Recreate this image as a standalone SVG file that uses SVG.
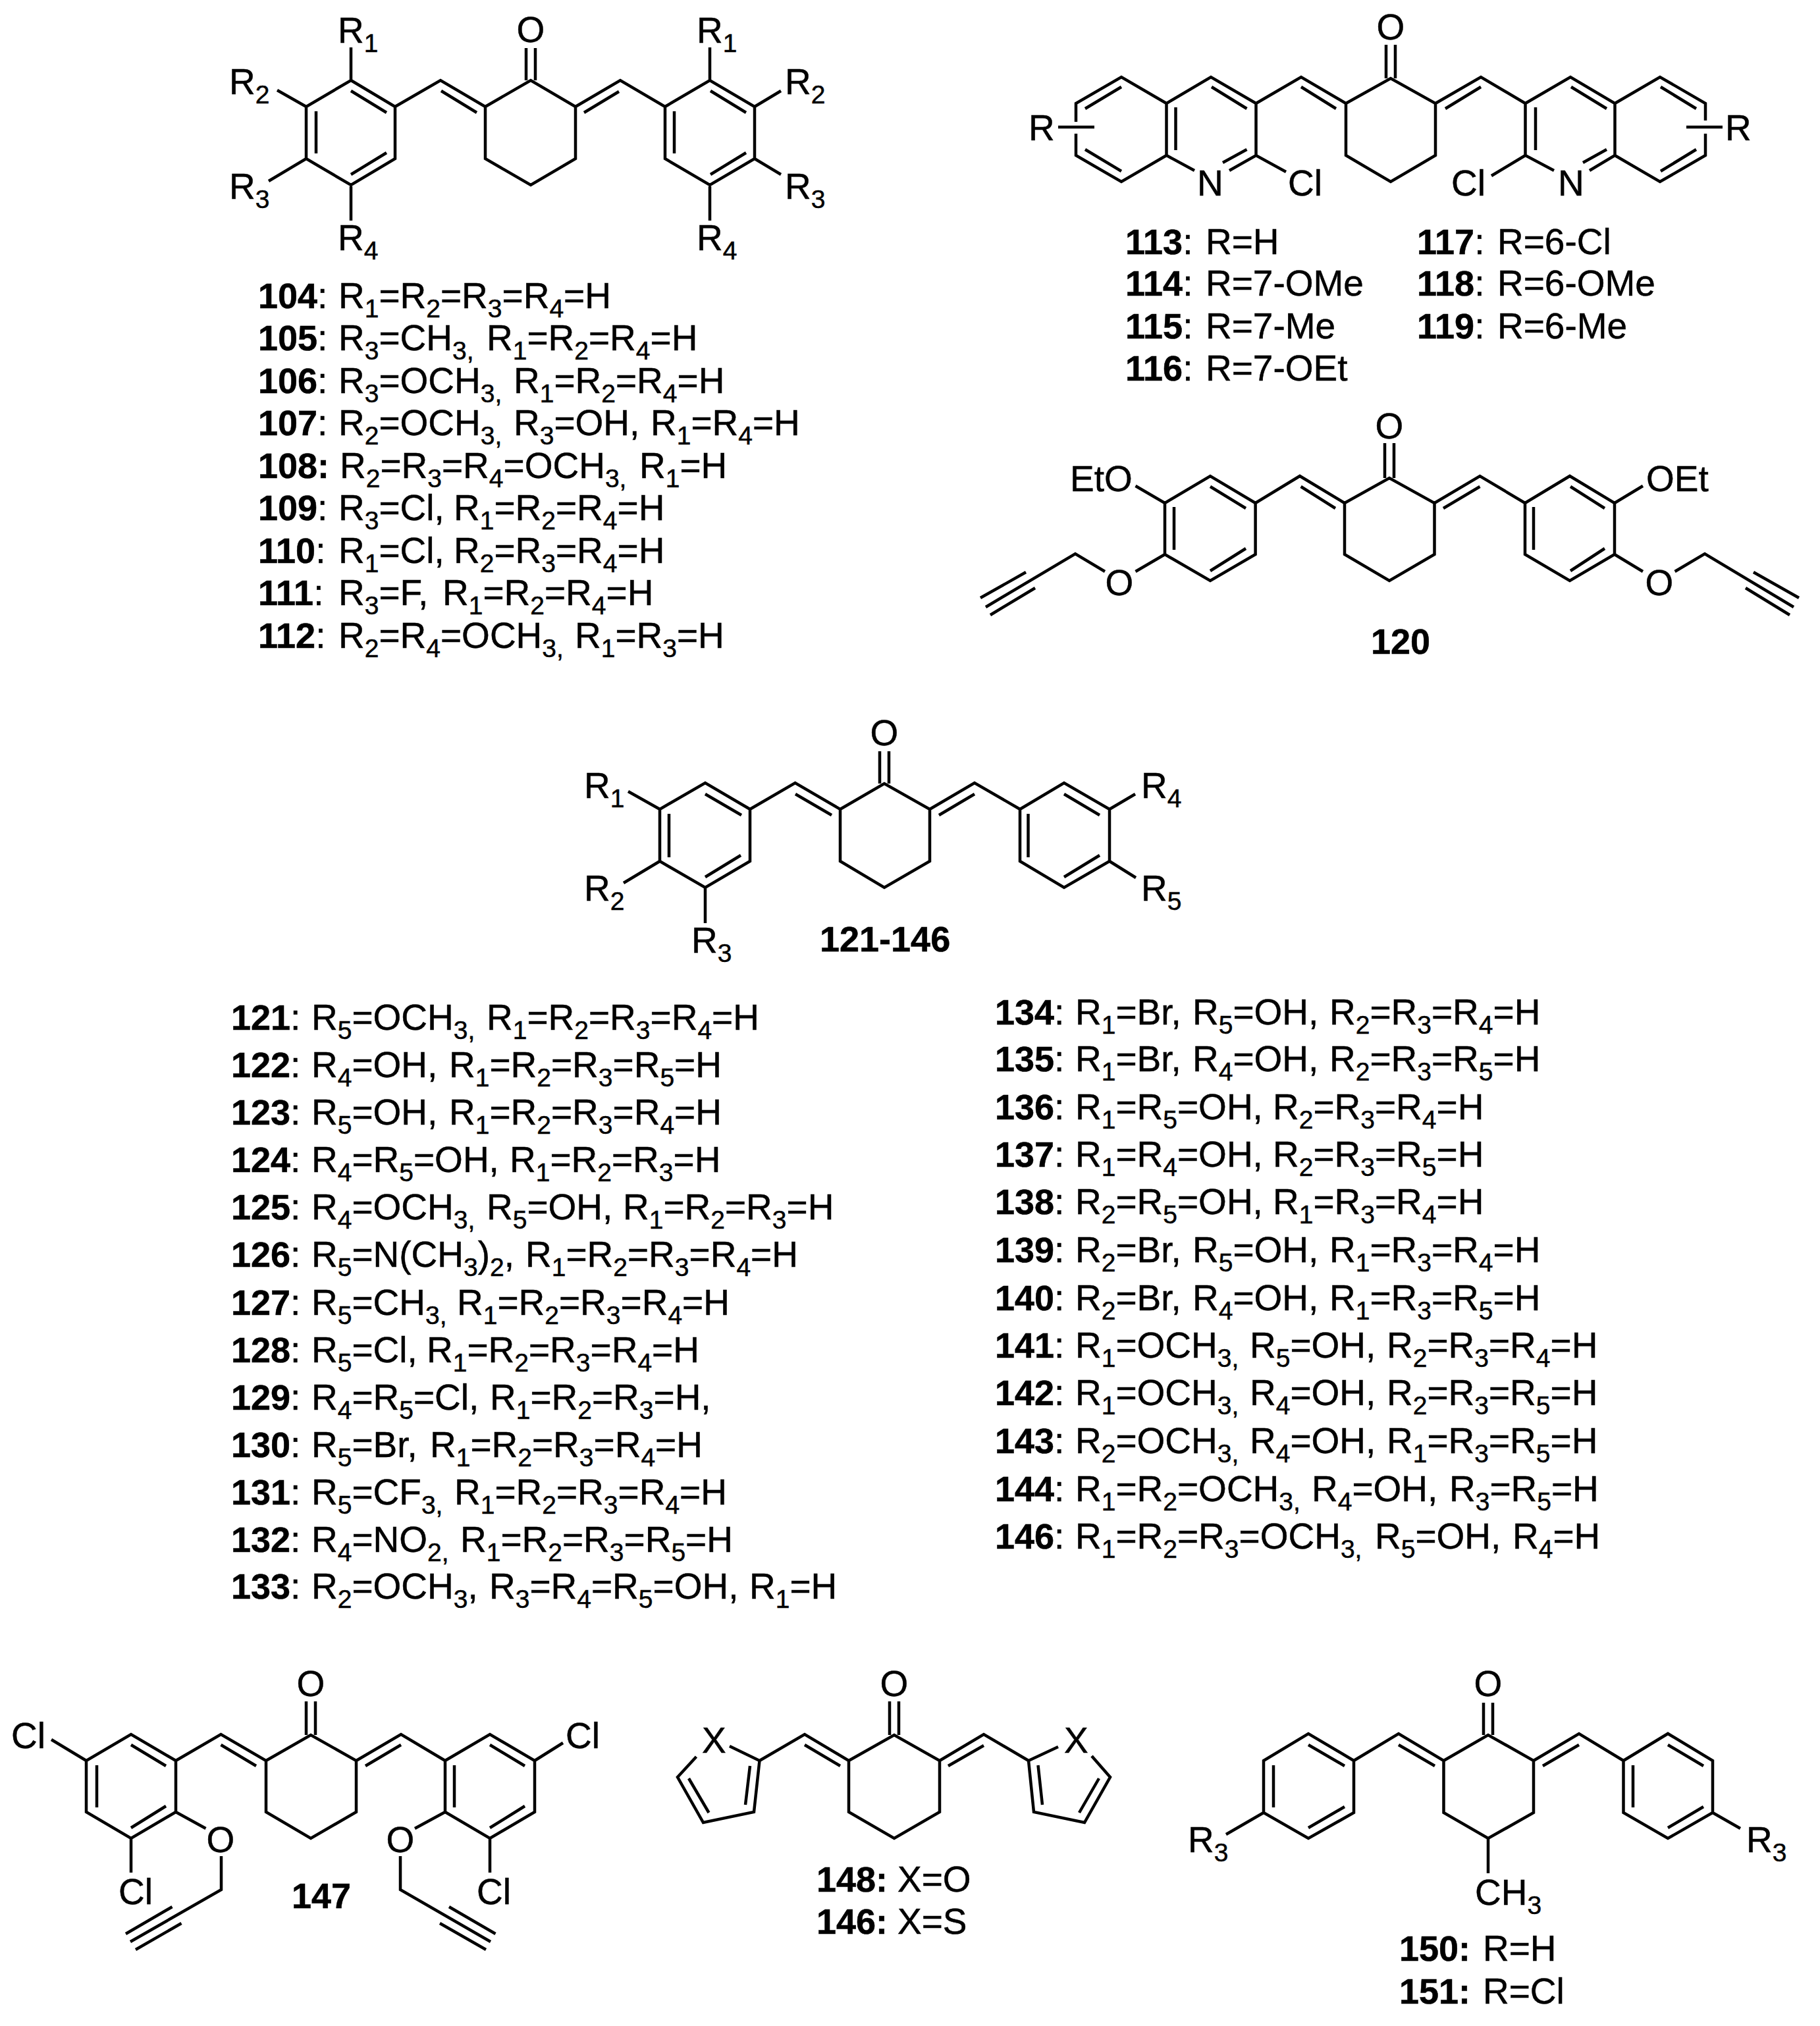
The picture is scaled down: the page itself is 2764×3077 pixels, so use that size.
<svg xmlns="http://www.w3.org/2000/svg" width="2764" height="3077" viewBox="0 0 2764 3077">
<style>
text{font-family:"Liberation Sans",Arial,sans-serif;font-size:55px;fill:#000;stroke:#000;stroke-width:.5px}
.b{font-weight:bold;font-size:54px}
.s{font-size:39px;baseline-shift:-14px}
.m{text-anchor:middle}
.bond{fill:none;stroke:#000;stroke-width:4.5;stroke-linejoin:miter;stroke-linecap:butt}
</style>
<rect width="2764" height="3077" fill="#fff"/>

<g id="connectors">
<path id="bonds-104" class="bond" d="M533 122L600 162V241L533 281L465 241V162Z M600 162L669 122L737 162V241L806 281L874 241V162L806 122L737 162 M874 162L942 122L1010 162V241L1078 281L1146 241V162L1078 122L1010 162 M799 73V122M813 73V122 M670 138L724 171 M940 139L887 171 M533 138L587 171 M480 169V233 M533 265L587 232 M1024 169V233 M1079 138L1133 171 M1079 265L1133 232 M533 122V72 M465 162L421 137 M465 241L408 275 M533 281V335 M1078 122V72 M1146 162L1186 138 M1146 241L1186 265 M1078 281V335"/>
<path id="bonds-113" class="bond" d="M1907.500 157L1976 117L2044 157V236L2112 276L2180 236V157L2112 119L2044 157 M2180 157L2249 117L2316.500 157 M2105 68V119M2119 68V119 M1976 132L2029 165 M2249 132L2195 165 M1907.500 157V236M1907.500 157L1839 117L1771.500 157V236L1814 259 M1867 259L1907.500 236L1953 261 M1840 132L1893.500 165 M1857 247L1893.500 227 M1785.500 163V228 M1771.500 157L1703 117L1634 157V185 M1634 203V236L1703 276L1771.500 236 M1648 165L1703 132 M1648 227L1703 260 M1607 193H1662 M2316.500 157V236L2360 259 M2316.500 236L2265 267 M2316.500 157L2385 117L2452.500 157V236L2414 259 M2332 163V228 M2386 132L2440 165 M2404 247L2440 227 M2452.500 157L2521 117L2590 157V183 M2590 203V236L2521 276L2452.500 236 M2522 132L2576 165 M2522 260L2576 227 M2561 193H2616"/>
<path id="bonds-120" class="bond" d="M1906.600 764L1974 723L2042 764V842L2110 882L2178.500 842V764L2110 726L2042 764 M2178.500 764L2247.500 723L2316 764 M2103 673V726M2117 673V726 M1975.600 739L2028 772 M2247.500 739L2192 772 M1906.600 764L1838 723L1769 764V842L1838 882L1906.600 842Z M1838 739L1892 772 M1783 770V835 M1838 867L1892 833 M2316 764L2384 723L2452 764V842L2384 882L2316 842Z M2329 770V835 M2385 739L2437 772 M2385 867L2437 833 M1769 764L1724.500 738 M1769 842L1724.500 868 M1678 868L1633 841L1497 922 M1558 869L1489 908 M1572 893L1504 934 M2452 764L2495 738 M2452 842L2495 868 M2543.600 868L2589 841L2724 922 M2663 869L2732 908 M2651 893L2718 934"/>
<path id="bonds-121" class="bond" d="M1139 1229L1207.600 1189L1276 1229V1308L1343 1348L1412 1308V1229L1343 1190L1276 1229 M1412 1229L1480 1189L1549 1229 M1336 1141V1190M1350 1141V1190 M1208 1206L1263 1238 M1480 1206L1426 1238 M1139 1229L1071 1189L1002 1229V1308L1071 1348L1139 1308Z M1071 1206L1126 1238 M1016 1236V1302 M1071 1332L1125 1299 M1549 1229L1616 1189L1685 1229V1308L1616 1348L1549 1308Z M1561.500 1236V1302 M1616 1206L1670 1238 M1616 1332L1670 1299 M1002 1229L954 1202 M1002 1308L947 1341 M1071 1348V1402 M1685 1229L1724 1206 M1685 1308L1725 1333"/>
<path id="bonds-147" class="bond" d="M267 2674L335.500 2634L404 2674V2752L472 2792L541 2752V2674L472 2635L404 2674 M541 2674L609 2634L676 2674 M465 2584V2635M479 2584V2635 M335.500 2650L389 2682 M609 2650L555 2682 M267 2674L199 2634L131 2674V2752L199 2792L267 2752Z M199 2650L252 2682 M147 2681V2745 M199 2776L252 2743 M676 2674L744 2634L812 2674V2752L744 2792L676 2752Z M690 2681V2745 M744 2650L797 2682 M744 2776L797 2743 M131 2674L78 2642 M199 2792V2844 M267 2752L312.500 2777 M336 2819V2870L198 2949 M261.500 2896L191 2937 M275.500 2921L206 2961 M812 2674L855 2647 M744 2792V2844 M676 2752L630 2777 M608 2819V2870L745 2949 M682 2896L752.500 2937 M668 2921L738 2961"/>
<path id="bonds-148" class="bond" d="M1153.500 2674L1222 2634L1289 2674V2752L1358 2792L1427 2752V2674L1358 2635L1289 2674 M1427 2674L1494 2634L1562 2674 M1351 2584V2635M1365 2584V2635 M1222 2650L1276 2682 M1494 2651L1440 2682 M1108 2652L1153.500 2674L1145 2752L1068 2768L1029 2699L1057.500 2668 M1139 2682L1132 2741 M1076.500 2753L1046 2701 M1607 2653L1562 2674L1570 2752L1647 2768L1686 2699L1658 2667 M1576.500 2681L1583 2741 M1639 2753L1669 2701"/>
<path id="bonds-150" class="bond" d="M2056 2674L2124 2633L2192.500 2674V2753L2260 2792L2329 2753V2674L2260 2635L2192.500 2674 M2329 2674L2398 2633L2465.500 2674 M2253 2586V2635M2267 2586V2635 M2124 2650L2179 2682 M2398 2650L2343 2682 M2056 2674L1987 2633L1919 2674V2753L1987 2792L2056 2753Z M1987 2650L2042 2682 M1934 2681V2745 M1987 2776L2042 2744 M2465.500 2674L2533 2633L2601 2674V2753L2533 2792L2465.500 2753Z M2480 2681V2745 M2533 2650L2587 2682 M2533 2776L2587 2744 M1919 2753L1862 2786 M2601 2753L2643 2777 M2260 2792V2845"/>
</g>

<g id="mol-104">
<text class="m" x="806" y="64">O</text>
<text x="513" y="65">R<tspan class="s">1</tspan></text>
<text x="348" y="143">R<tspan class="s">2</tspan></text>
<text x="348" y="302">R<tspan class="s">3</tspan></text>
<text x="513" y="380">R<tspan class="s">4</tspan></text>
<text x="1058" y="65">R<tspan class="s">1</tspan></text>
<text x="1192" y="143">R<tspan class="s">2</tspan></text>
<text x="1192" y="302">R<tspan class="s">3</tspan></text>
<text x="1058" y="380">R<tspan class="s">4</tspan></text>
</g>
<g id="list-104-112" transform="translate(-3 0)">
<text x="395" y="468"><tspan class="b">104</tspan>:<tspan x="517">R<tspan class="s">1</tspan>=R<tspan class="s">2</tspan>=R<tspan class="s">3</tspan>=R<tspan class="s">4</tspan>=H</tspan></text>
<text x="395" y="532"><tspan class="b">105</tspan>:<tspan x="517">R<tspan class="s">3</tspan>=CH<tspan class="s">3,</tspan></tspan><tspan x="742">R<tspan class="s">1</tspan>=R<tspan class="s">2</tspan>=R<tspan class="s">4</tspan>=H</tspan></text>
<text x="395" y="597"><tspan class="b">106</tspan>:<tspan x="517">R<tspan class="s">3</tspan>=OCH<tspan class="s">3,</tspan></tspan><tspan x="783">R<tspan class="s">1</tspan>=R<tspan class="s">2</tspan>=R<tspan class="s">4</tspan>=H</tspan></text>
<text x="395" y="661"><tspan class="b">107</tspan>:<tspan x="517">R<tspan class="s">2</tspan>=OCH<tspan class="s">3,</tspan></tspan><tspan x="783">R<tspan class="s">3</tspan>=OH,</tspan><tspan x="991">R<tspan class="s">1</tspan>=R<tspan class="s">4</tspan>=H</tspan></text>
<text x="395" y="726"><tspan class="b">108:</tspan><tspan x="519">R<tspan class="s">2</tspan>=R<tspan class="s">3</tspan>=R<tspan class="s">4</tspan>=OCH<tspan class="s">3,</tspan></tspan><tspan x="974">R<tspan class="s">1</tspan>=H</tspan></text>
<text x="395" y="790"><tspan class="b">109</tspan>:<tspan x="517">R<tspan class="s">3</tspan>=Cl,</tspan><tspan x="692">R<tspan class="s">1</tspan>=R<tspan class="s">2</tspan>=R<tspan class="s">4</tspan>=H</tspan></text>
<text x="395" y="855"><tspan class="b">110</tspan>:<tspan x="517">R<tspan class="s">1</tspan>=Cl,</tspan><tspan x="692">R<tspan class="s">2</tspan>=R<tspan class="s">3</tspan>=R<tspan class="s">4</tspan>=H</tspan></text>
<text x="395" y="919"><tspan class="b">111</tspan>:<tspan x="517">R<tspan class="s">3</tspan>=F,</tspan><tspan x="675">R<tspan class="s">1</tspan>=R<tspan class="s">2</tspan>=R<tspan class="s">4</tspan>=H</tspan></text>
<text x="395" y="984"><tspan class="b">112</tspan>:<tspan x="517">R<tspan class="s">2</tspan>=R<tspan class="s">4</tspan>=OCH<tspan class="s">3,</tspan></tspan><tspan x="876">R<tspan class="s">1</tspan>=R<tspan class="s">3</tspan>=H</tspan></text>
</g>

<g id="mol-113">
<text class="m" x="2112" y="60">O</text>
<text x="1562" y="213">R</text>
<text x="2620" y="213">R</text>
<text x="1818" y="297">N</text>
<text x="1956" y="297">Cl</text>
<text x="2204" y="297">Cl</text>
<text x="2366" y="297">N</text>
</g>
<g id="list-113-119" transform="translate(-3 0)">
<text x="1712" y="386"><tspan class="b">113</tspan>:<tspan x="1834">R=H</tspan></text>
<text x="1712" y="449"><tspan class="b">114</tspan>:<tspan x="1834">R=7-OMe</tspan></text>
<text x="1712" y="514"><tspan class="b">115</tspan>:<tspan x="1834">R=7-Me</tspan></text>
<text x="1712" y="578"><tspan class="b">116</tspan>:<tspan x="1834">R=7-OEt</tspan></text>
<text x="2155" y="386"><tspan class="b">117</tspan>:<tspan x="2277">R=6-Cl</tspan></text>
<text x="2155" y="449"><tspan class="b">118</tspan>:<tspan x="2277">R=6-OMe</tspan></text>
<text x="2155" y="514"><tspan class="b">119</tspan>:<tspan x="2277">R=6-Me</tspan></text>
</g>

<g id="mol-120">
<text class="m" x="2110" y="666">O</text>
<text x="1625" y="746">EtO</text>
<text x="2500" y="746">OEt</text>
<text class="m" x="1700" y="904">O</text>
<text class="m" x="2520" y="904">O</text>
<text class="b" x="2082" y="993">120</text>
</g>

<g id="mol-121-146">
<text class="m" x="1343" y="1132">O</text>
<text x="887" y="1212">R<tspan class="s">1</tspan></text>
<text x="887" y="1368">R<tspan class="s">2</tspan></text>
<text x="1050" y="1447">R<tspan class="s">3</tspan></text>
<text x="1733" y="1212">R<tspan class="s">4</tspan></text>
<text x="1733" y="1368">R<tspan class="s">5</tspan></text>
<text class="b" x="1245" y="1445">121-146</text>
</g>
<g id="list-121-133" transform="translate(-3 0)">
<text x="354" y="1564"><tspan class="b">121</tspan>:<tspan x="476">R<tspan class="s">5</tspan>=OCH<tspan class="s">3,</tspan></tspan><tspan x="742">R<tspan class="s">1</tspan>=R<tspan class="s">2</tspan>=R<tspan class="s">3</tspan>=R<tspan class="s">4</tspan>=H</tspan></text>
<text x="354" y="1636"><tspan class="b">122</tspan>:<tspan x="476">R<tspan class="s">4</tspan>=OH,</tspan><tspan x="685">R<tspan class="s">1</tspan>=R<tspan class="s">2</tspan>=R<tspan class="s">3</tspan>=R<tspan class="s">5</tspan>=H</tspan></text>
<text x="354" y="1708"><tspan class="b">123</tspan>:<tspan x="476">R<tspan class="s">5</tspan>=OH,</tspan><tspan x="685">R<tspan class="s">1</tspan>=R<tspan class="s">2</tspan>=R<tspan class="s">3</tspan>=R<tspan class="s">4</tspan>=H</tspan></text>
<text x="354" y="1780"><tspan class="b">124</tspan>:<tspan x="476">R<tspan class="s">4</tspan>=R<tspan class="s">5</tspan>=OH,</tspan><tspan x="777">R<tspan class="s">1</tspan>=R<tspan class="s">2</tspan>=R<tspan class="s">3</tspan>=H</tspan></text>
<text x="354" y="1852"><tspan class="b">125</tspan>:<tspan x="476">R<tspan class="s">4</tspan>=OCH<tspan class="s">3,</tspan></tspan><tspan x="742">R<tspan class="s">5</tspan>=OH,</tspan><tspan x="949">R<tspan class="s">1</tspan>=R<tspan class="s">2</tspan>=R<tspan class="s">3</tspan>=H</tspan></text>
<text x="354" y="1924"><tspan class="b">126</tspan>:<tspan x="476">R<tspan class="s">5</tspan>=N(CH<tspan class="s">3</tspan>)<tspan class="s">2</tspan>,</tspan><tspan x="801">R<tspan class="s">1</tspan>=R<tspan class="s">2</tspan>=R<tspan class="s">3</tspan>=R<tspan class="s">4</tspan>=H</tspan></text>
<text x="354" y="1997"><tspan class="b">127</tspan>:<tspan x="476">R<tspan class="s">5</tspan>=CH<tspan class="s">3,</tspan></tspan><tspan x="697">R<tspan class="s">1</tspan>=R<tspan class="s">2</tspan>=R<tspan class="s">3</tspan>=R<tspan class="s">4</tspan>=H</tspan></text>
<text x="354" y="2069"><tspan class="b">128</tspan>:<tspan x="476">R<tspan class="s">5</tspan>=Cl,</tspan><tspan x="651">R<tspan class="s">1</tspan>=R<tspan class="s">2</tspan>=R<tspan class="s">3</tspan>=R<tspan class="s">4</tspan>=H</tspan></text>
<text x="354" y="2141"><tspan class="b">129</tspan>:<tspan x="476">R<tspan class="s">4</tspan>=R<tspan class="s">5</tspan>=Cl,</tspan><tspan x="747">R<tspan class="s">1</tspan>=R<tspan class="s">2</tspan>=R<tspan class="s">3</tspan>=H,</tspan></text>
<text x="354" y="2213"><tspan class="b">130</tspan>:<tspan x="476">R<tspan class="s">5</tspan>=Br,</tspan><tspan x="656">R<tspan class="s">1</tspan>=R<tspan class="s">2</tspan>=R<tspan class="s">3</tspan>=R<tspan class="s">4</tspan>=H</tspan></text>
<text x="354" y="2285"><tspan class="b">131</tspan>:<tspan x="476">R<tspan class="s">5</tspan>=CF<tspan class="s">3,</tspan></tspan><tspan x="693">R<tspan class="s">1</tspan>=R<tspan class="s">2</tspan>=R<tspan class="s">3</tspan>=R<tspan class="s">4</tspan>=H</tspan></text>
<text x="354" y="2357"><tspan class="b">132</tspan>:<tspan x="476">R<tspan class="s">4</tspan>=NO<tspan class="s">2,</tspan></tspan><tspan x="702">R<tspan class="s">1</tspan>=R<tspan class="s">2</tspan>=R<tspan class="s">3</tspan>=R<tspan class="s">5</tspan>=H</tspan></text>
<text x="354" y="2428"><tspan class="b">133</tspan>:<tspan x="476">R<tspan class="s">2</tspan>=OCH<tspan class="s">3</tspan>,</tspan><tspan x="746">R<tspan class="s">3</tspan>=R<tspan class="s">4</tspan>=R<tspan class="s">5</tspan>=OH,</tspan><tspan x="1141">R<tspan class="s">1</tspan>=H</tspan></text>
</g>
<g id="list-134-146" transform="translate(-3 0)">
<text x="1514" y="1556"><tspan class="b">134</tspan>:<tspan x="1636">R<tspan class="s">1</tspan>=Br,</tspan><tspan x="1814">R<tspan class="s">5</tspan>=OH,</tspan><tspan x="2022">R<tspan class="s">2</tspan>=R<tspan class="s">3</tspan>=R<tspan class="s">4</tspan>=H</tspan></text>
<text x="1514" y="1627"><tspan class="b">135</tspan>:<tspan x="1636">R<tspan class="s">1</tspan>=Br,</tspan><tspan x="1814">R<tspan class="s">4</tspan>=OH,</tspan><tspan x="2022">R<tspan class="s">2</tspan>=R<tspan class="s">3</tspan>=R<tspan class="s">5</tspan>=H</tspan></text>
<text x="1514" y="1700"><tspan class="b">136</tspan>:<tspan x="1636">R<tspan class="s">1</tspan>=R<tspan class="s">5</tspan>=OH,</tspan><tspan x="1936">R<tspan class="s">2</tspan>=R<tspan class="s">3</tspan>=R<tspan class="s">4</tspan>=H</tspan></text>
<text x="1514" y="1772"><tspan class="b">137</tspan>:<tspan x="1636">R<tspan class="s">1</tspan>=R<tspan class="s">4</tspan>=OH,</tspan><tspan x="1936">R<tspan class="s">2</tspan>=R<tspan class="s">3</tspan>=R<tspan class="s">5</tspan>=H</tspan></text>
<text x="1514" y="1844"><tspan class="b">138</tspan>:<tspan x="1636">R<tspan class="s">2</tspan>=R<tspan class="s">5</tspan>=OH,</tspan><tspan x="1936">R<tspan class="s">1</tspan>=R<tspan class="s">3</tspan>=R<tspan class="s">4</tspan>=H</tspan></text>
<text x="1514" y="1917"><tspan class="b">139</tspan>:<tspan x="1636">R<tspan class="s">2</tspan>=Br,</tspan><tspan x="1814">R<tspan class="s">5</tspan>=OH,</tspan><tspan x="2022">R<tspan class="s">1</tspan>=R<tspan class="s">3</tspan>=R<tspan class="s">4</tspan>=H</tspan></text>
<text x="1514" y="1990"><tspan class="b">140</tspan>:<tspan x="1636">R<tspan class="s">2</tspan>=Br,</tspan><tspan x="1814">R<tspan class="s">4</tspan>=OH,</tspan><tspan x="2022">R<tspan class="s">1</tspan>=R<tspan class="s">3</tspan>=R<tspan class="s">5</tspan>=H</tspan></text>
<text x="1514" y="2062"><tspan class="b">141</tspan>:<tspan x="1636">R<tspan class="s">1</tspan>=OCH<tspan class="s">3,</tspan></tspan><tspan x="1901">R<tspan class="s">5</tspan>=OH,</tspan><tspan x="2109">R<tspan class="s">2</tspan>=R<tspan class="s">3</tspan>=R<tspan class="s">4</tspan>=H</tspan></text>
<text x="1514" y="2134"><tspan class="b">142</tspan>:<tspan x="1636">R<tspan class="s">1</tspan>=OCH<tspan class="s">3,</tspan></tspan><tspan x="1901">R<tspan class="s">4</tspan>=OH,</tspan><tspan x="2109">R<tspan class="s">2</tspan>=R<tspan class="s">3</tspan>=R<tspan class="s">5</tspan>=H</tspan></text>
<text x="1514" y="2207"><tspan class="b">143</tspan>:<tspan x="1636">R<tspan class="s">2</tspan>=OCH<tspan class="s">3,</tspan></tspan><tspan x="1901">R<tspan class="s">4</tspan>=OH,</tspan><tspan x="2109">R<tspan class="s">1</tspan>=R<tspan class="s">3</tspan>=R<tspan class="s">5</tspan>=H</tspan></text>
<text x="1514" y="2280"><tspan class="b">144</tspan>:<tspan x="1636">R<tspan class="s">1</tspan>=R<tspan class="s">2</tspan>=OCH<tspan class="s">3,</tspan></tspan><tspan x="1995">R<tspan class="s">4</tspan>=OH,</tspan><tspan x="2204">R<tspan class="s">3</tspan>=R<tspan class="s">5</tspan>=H</tspan></text>
<text x="1514" y="2352"><tspan class="b">146</tspan>:<tspan x="1636">R<tspan class="s">1</tspan>=R<tspan class="s">2</tspan>=R<tspan class="s">3</tspan>=OCH<tspan class="s">3,</tspan></tspan><tspan x="2091">R<tspan class="s">5</tspan>=OH,</tspan><tspan x="2300">R<tspan class="s">4</tspan>=H</tspan></text>
</g>

<g id="mol-147">
<text class="m" x="472" y="2576">O</text>
<text x="17" y="2655">Cl</text>
<text x="180" y="2892">Cl</text>
<text x="859" y="2655">Cl</text>
<text x="724" y="2892">Cl</text>
<text class="m" x="335" y="2813">O</text>
<text class="m" x="608" y="2813">O</text>
<text class="b" x="443" y="2898">147</text>
</g>
<g id="mol-148">
<text class="m" x="1358" y="2576">O</text>
<text x="1066" y="2662">X</text>
<text x="1616" y="2662">X</text>
<text x="1240" y="2873"><tspan class="b">148:</tspan><tspan x="1363">X=O</tspan></text>
<text x="1240" y="2937"><tspan class="b">146:</tspan><tspan x="1363">X=S</tspan></text>
</g>
<g id="mol-150">
<text class="m" x="2260" y="2576">O</text>
<text x="1804" y="2813">R<tspan class="s">3</tspan></text>
<text x="2652" y="2813">R<tspan class="s">3</tspan></text>
<text x="2240" y="2893">CH<tspan class="s">3</tspan></text>
<text x="2125" y="2978"><tspan class="b">150:</tspan><tspan x="2252">R=H</tspan></text>
<text x="2125" y="3043"><tspan class="b">151:</tspan><tspan x="2252">R=Cl</tspan></text>
</g>
</svg>
